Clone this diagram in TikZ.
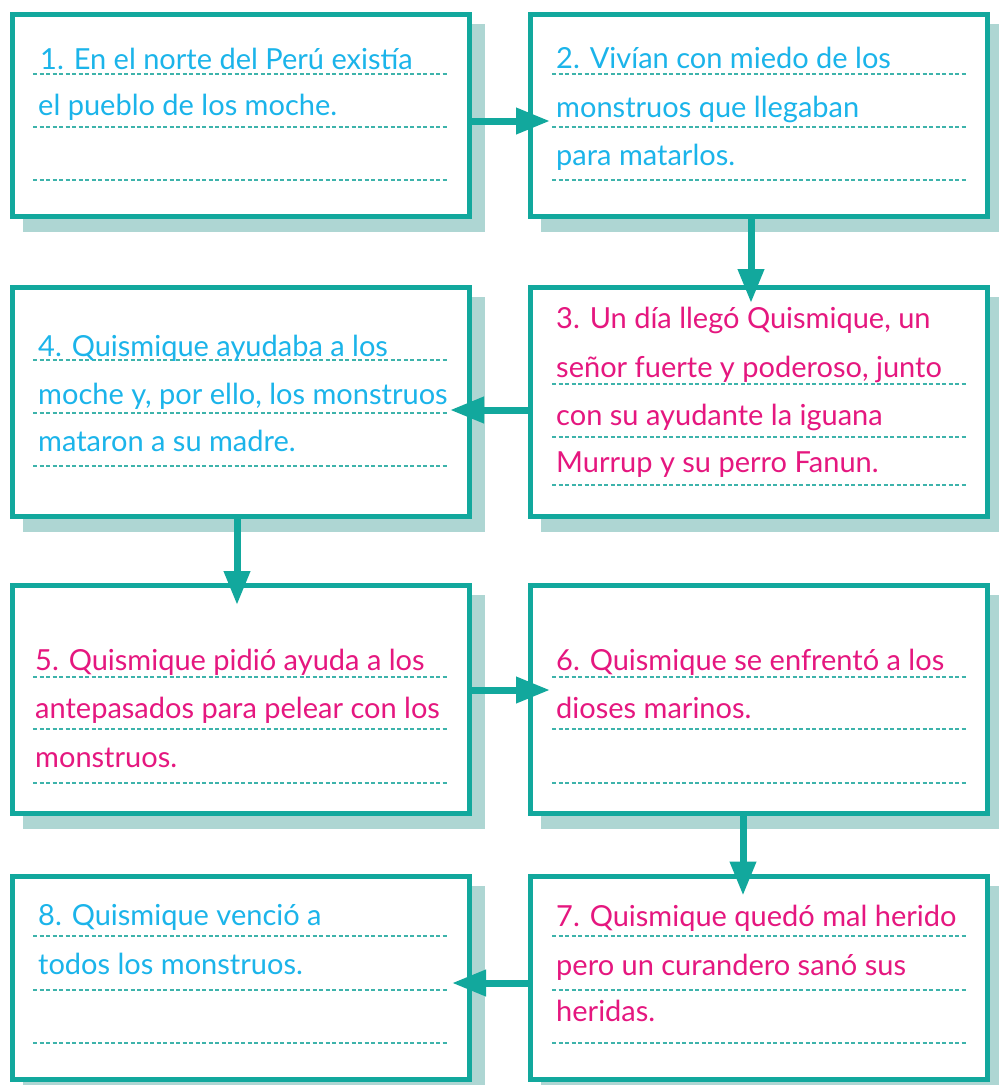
\documentclass[tikz,border=0pt]{standalone}
\usepackage{fontspec}
\setmainfont{Lato}
\usepackage{tikz}
\usetikzlibrary{arrows.meta, backgrounds}
\definecolor{frame}{HTML}{12A89D}
\definecolor{cardback}{HTML}{AED6D3}
\definecolor{guidec}{HTML}{3DB3AB}
\definecolor{blueink}{HTML}{1BB4EA}
\definecolor{pinkink}{HTML}{E5177F}

\begin{document}
\begin{tikzpicture}[
        x=1pt, y=-1pt,
        card/.style={rectangle,draw=frame,line width=5pt,fill=white,minimum width=457pt},
        azul/.style={anchor=base west,inner sep=0pt,text=blueink,font=\fontsize{29}{29}\selectfont},
        rosa/.style={azul,text=pinkink},
        guide/.style={draw=guidec,line width=1.2pt,dash pattern=on 4pt off 2.5pt},
        flow/.style={draw=frame,line width=7pt,-{Triangle[length=34pt,width=25pt]}}
    ]
    \useasboundingbox (0,0) rectangle (999,1085);
    % the eight cards
    \node[card,minimum height=202pt] (b1) at (241,115.5) {};
    \node[card,minimum height=202pt] (b2) at (758.5,115.5) {};
    \node[card,minimum height=229pt] (b3) at (758.5,402) {};
    \node[card,minimum height=229pt] (b4) at (241,402) {};
    \node[card,minimum height=228pt] (b5) at (241,699.5) {};
    \node[card,minimum height=228pt] (b6) at (758.5,699.5) {};
    \node[card,minimum height=203pt] (b7) at (758.5,978) {};
    \node[card,minimum height=203pt] (b8) at (241,978) {};
    \begin{scope}[on background layer]
    \foreach \b in {b1,b2,b3,b4,b5,b6,b7,b8}
        \fill[cardback] ([shift={(13,12)}]\b.north west) rectangle ([shift={(13,13)}]\b.south east);
    \end{scope}
    % writing lines
    \foreach \y in {74,127,180} {
        \draw[guide] (33,\y) -- (448,\y);
        \draw[guide] (552,\y) -- (966,\y);
    }
    \foreach \y in {384,437,485} \draw[guide] (552,\y) -- (966,\y);
    \foreach \y in {360,413,466} \draw[guide] (33,\y) -- (448,\y);
    \foreach \y in {677,729,783} {
        \draw[guide] (33,\y) -- (448,\y);
        \draw[guide] (552,\y) -- (966,\y);
    }
    \foreach \y in {936,990,1043} {
        \draw[guide] (33,\y) -- (448,\y);
        \draw[guide] (552,\y) -- (966,\y);
    }
    % texts
    \node[azul] (t1a) at (40,69) {1. En el norte del Perú existía};
    \node[azul] (t1b) at (38,115) {el pueblo de los moche.};
    \node[azul] (t2a) at (556,68) {2. Vivían con miedo de los};
    \node[azul] (t2b) at (556,117) {monstruos que llegaban};
    \node[azul] (t2c) at (556,165) {para matarlos.};
    \node[rosa] (t3a) at (556,328) {3. Un día llegó Quismique, un};
    \node[rosa] (t3b) at (556,377) {señor fuerte y poderoso, junto};
    \node[rosa] (t3c) at (556,425) {con su ayudante la iguana};
    \node[rosa] (t3d) at (556,472) {Murrup y su perro Fanun.};
    \node[azul] (t4a) at (38,356) {4. Quismique ayudaba a los};
    \node[azul] (t4b) at (38,404) {moche y, por ello, los monstruos};
    \node[azul] (t4c) at (38,451) {mataron a su madre.};
    \node[rosa] (t5a) at (35,670) {5. Quismique pidió ayuda a los};
    \node[rosa] (t5b) at (35,718) {antepasados para pelear con los};
    \node[rosa] (t5c) at (35,767) {monstruos.};
    \node[rosa] (t6a) at (556,670) {6. Quismique se enfrentó a los};
    \node[rosa] (t6b) at (556,718) {dioses marinos.};
    \node[rosa] (t7a) at (556,926) {7. Quismique quedó mal herido};
    \node[rosa] (t7b) at (556,975) {pero un curandero sanó sus};
    \node[rosa] (t7c) at (556,1021) {heridas.};
    \node[azul] (t8a) at (38,925) {8. Quismique venció a};
    \node[azul] (t8b) at (38,974) {todos los monstruos.};
    % arrows between cards
    \draw[flow] ([shift={(0,5.5)}]b1.east) -- ([shift={(22.5,5.5)}]b2.west);
    \draw[flow] ([shift={(-7.5,0)}]b2.south) -- ([shift={(-7.5,18)}]b3.north);
    \draw[flow] ([shift={(0,8)}]b3.west) -- ([shift={(-22,8)}]b4.east);
    \draw[flow] ([shift={(-4,0)}]b4.south) -- ([shift={(-4,22)}]b5.north);
    \draw[flow] ([shift={(0,-9.5)}]b5.east) -- ([shift={(22.5,-9.5)}]b6.west);
    \draw[flow] ([shift={(-15.5,0)}]b6.south) -- ([shift={(-15.5,21.5)}]b7.north);
    \draw[flow] ([shift={(0,5)}]b7.west) -- ([shift={(-20,5)}]b8.east);
\end{tikzpicture}
\end{document}
